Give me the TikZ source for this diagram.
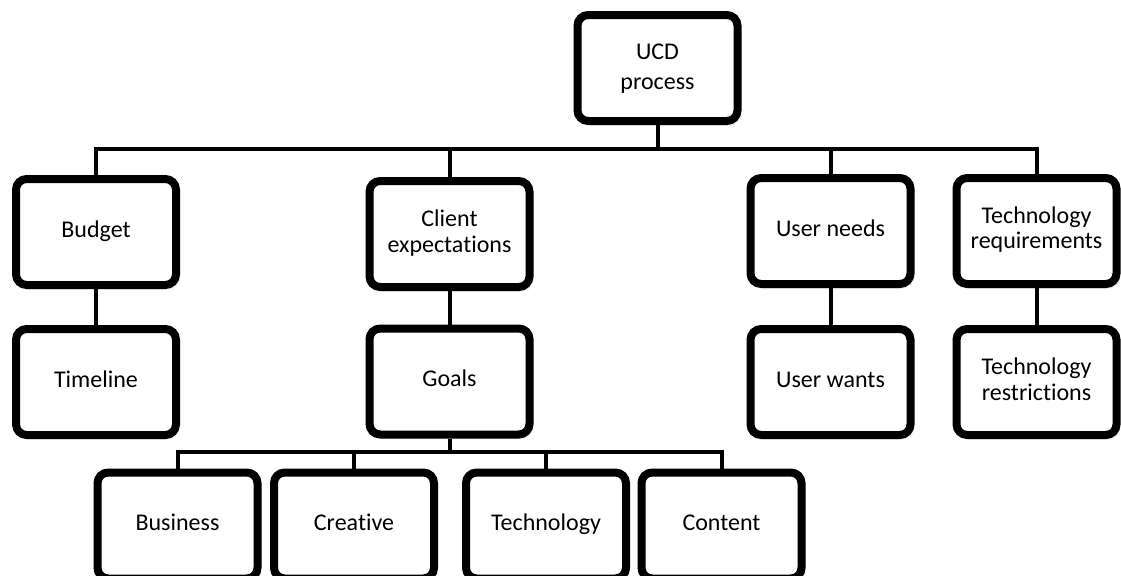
\documentclass[tikz,border=0pt]{standalone}
\usepackage{fontspec}
\setmainfont[Ligatures=NoCommon]{Carlito}
\usetikzlibrary{backgrounds,shadows.blur}

\tikzset{
  box/.style={draw=black, line width=6pt, rounded corners=8pt, fill=white,
    minimum width=120pt, minimum height=79.5pt, inner sep=0pt,
    align=center, font=\fontsize{18}{20}\selectfont,
    blur shadow={shadow xshift=1.5pt, shadow yshift=-2pt, shadow blur steps=6, shadow opacity=35}},
  link/.style={draw=black, line width=3pt}
}

\begin{document}
\begin{tikzpicture}[x=0.75pt, y=-0.75pt]
  \useasboundingbox (0,0) rectangle (1121,575);
  \clip (0,0) rectangle (1121,575);

  % top level
  \node[box, font=\fontsize{18}{22.5}\selectfont] (ucd) at (657.5,68) {UCD\strut\\process\strut};

  % second level
  \node[box] (budget) at (96,232) {Budget\strut};
  \node[box] (client) at (449.5,234) {Client\strut\\expectations\strut};
  \node[box] (needs)  at (830.5,231) {User needs\strut};
  \node[box, font=\fontsize{18}{18.5}\selectfont] (techreq) at (1036.5,231) {Technology\strut\\requirements\strut};

  % third level
  \node[box] (timeline) at (96,382) {Timeline\strut};
  \node[box] (goals)    at (449.5,381.5) {Goals\strut};
  \node[box] (wants)    at (830.5,382) {User wants\strut};
  \node[box] (techres)  at (1036.5,382) {Technology\strut\\restrictions\strut};

  % goals breakdown
  \node[box] (business) at (177.5,525.5) {Business\strut};
  \node[box] (creative) at (354,525.5) {Creative\strut};
  \node[box] (tech)     at (546,525.5) {Technology\strut};
  \node[box] (content)  at (721.5,525.5) {Content\strut};

  \coordinate (topbar) at (0,149);
  \coordinate (lowbar) at (0,452);

  \begin{scope}[on background layer]
    % main tree
    \draw[link] (ucd.south) -- (ucd.south |- topbar);
    \draw[link] (budget.north) -- (budget.north |- topbar)
                -- (techreq.north |- topbar) -- (techreq.north);
    \draw[link] (client.north |- topbar) -- (client.north);
    \draw[link] (needs.north |- topbar) -- (needs.north);

    % vertical pairs
    \draw[link] (budget.south) -- (timeline.north);
    \draw[link] (client.south) -- (goals.north);
    \draw[link] (needs.south) -- (wants.north);
    \draw[link] (techreq.south) -- (techres.north);

    % goals tree
    \draw[link] (goals.south) -- (goals.south |- lowbar);
    \draw[link] (business.north) -- (business.north |- lowbar)
                -- (content.north |- lowbar) -- (content.north);
    \draw[link] (creative.north |- lowbar) -- (creative.north);
    \draw[link] (tech.north |- lowbar) -- (tech.north);
  \end{scope}
\end{tikzpicture}
\end{document}
